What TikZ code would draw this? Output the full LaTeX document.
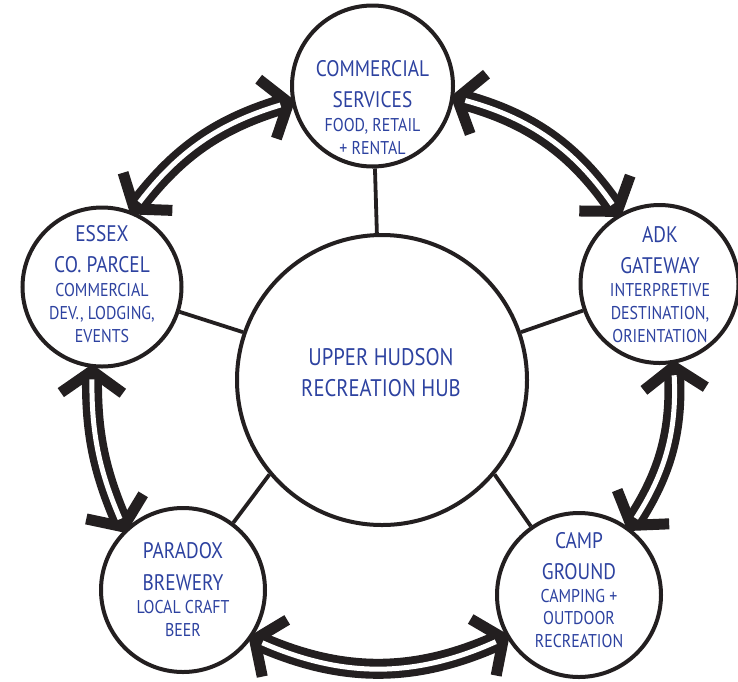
\documentclass[tikz,border=0pt]{standalone}
\usepackage{fontspec}
\setmainfont{PT Sans}[FakeStretch=0.86]
\usetikzlibrary{decorations.markings}
\definecolor{ink}{RGB}{35,31,32}
\definecolor{txt}{RGB}{45,66,160}
\begin{document}
\begin{tikzpicture}[x=1pt,y=1pt,
  hubc/.style={circle, draw=ink, line width=4pt, fill=white, inner sep=0pt},
  spoke/.style={draw=ink, line width=3.8pt},
  big/.style={text=txt, align=center, inner sep=0pt, anchor=north, font=\fontsize{22.5pt}{31pt}\selectfont},
  small/.style={text=txt, align=center, inner sep=0pt, anchor=north, font=\fontsize{18.5pt}{23pt}\selectfont},
  tips/.style={decorate, decoration={markings,
     mark=at position 0.0001 with {\draw[ink, line width=11pt, line cap=butt, line join=miter] (25pt,31pt) -- (3pt,0pt) -- (25pt,-31pt);},
     mark=at position 0.9999 with {\draw[ink, line width=11pt, line cap=butt, line join=miter] (-25pt,31pt) -- (-3pt,0pt) -- (-25pt,-31pt);}}},
  band/.style={draw=ink, line width=20pt, shorten <=8pt, shorten >=8pt},
  gapline/.style={draw=white, line width=5pt, shorten <=11.5pt, shorten >=11.5pt},
]
\useasboundingbox (0,0) rectangle (738,-681);
% circles
\node[hubc, minimum size=290pt] (hub) at (382,-380) {};
\node[hubc, minimum size=161pt] (top) at (372.5,-86) {};
\node[hubc, minimum size=158pt] (adk) at (659.5,-284) {};
\node[hubc, minimum size=159pt] (essex) at (102,-287) {};
\node[hubc, minimum size=164pt] (paradox) at (183,-590) {};
\node[hubc, minimum size=164pt] (camp) at (579,-595) {};
% spokes
\draw[spoke] (hub.92) -- (top);
\draw[spoke] (hub.19) -- (adk);
\draw[spoke] (hub.161) -- (essex);
\draw[spoke] (hub.220) -- (paradox);
\draw[spoke] (hub.320) -- (camp);
% texts
\node[text=txt, align=center, inner sep=0pt, anchor=north, font=\fontsize{24pt}{31pt}\selectfont] (hubtxt) at (381,-348) {UPPER HUDSON\\RECREATION HUB};
\node[big] (topA) at (372.5,-60) {COMMERCIAL\\SERVICES};
\node[small] (topB) at (372.5,-118) {FOOD, RETAIL\\+ RENTAL};
\node[big] (adkA) at (660,-226) {ADK\\GATEWAY};
\node[small] (adkB) at (660,-283) {INTERPRETIVE\\DESTINATION,\\ORIENTATION};
\node[big] (essexA) at (102,-225) {ESSEX\\CO. PARCEL};
\node[small] (essexB) at (102,-283) {COMMERCIAL\\DEV., LODGING,\\EVENTS};
\node[big, font=\fontsize{22.5pt}{32pt}\selectfont] (paradoxA) at (183,-542) {PARADOX\\BREWERY};
\node[small] (paradoxB) at (183,-600) {LOCAL CRAFT\\BEER};
\node[big] (campA) at (579,-532) {CAMP\\GROUND};
\node[small, font=\fontsize{18.5pt}{22.5pt}\selectfont] (campB) at (579,-589) {CAMPING +\\OUTDOOR\\RECREATION};
% double arrows
\foreach \s/\e/\b in {top.191/essex.68/18, essex.263/paradox.134/12, paradox.325/camp.210/24, camp.53/adk.280/18, adk.120/top.352/20} {
  \path[tips] (\s) to[bend right=\b] (\e);
  \draw[band] (\s) to[bend right=\b] (\e);
  \draw[gapline] (\s) to[bend right=\b] (\e);
}
\end{tikzpicture}
\end{document}
